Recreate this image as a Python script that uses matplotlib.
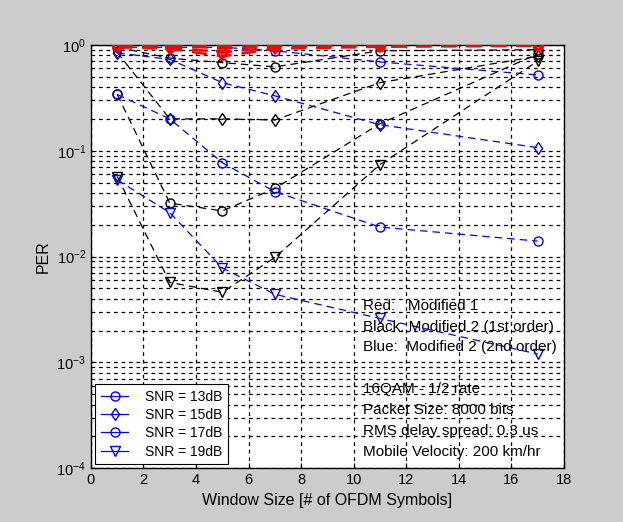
import matplotlib
matplotlib.use("Agg")
import matplotlib.pyplot as plt
from matplotlib.lines import Line2D
from matplotlib.ticker import LogLocator, NullFormatter

plt.rcParams['font.family'] = ['Liberation Sans', 'DejaVu Sans']
plt.rcParams['mathtext.fontset'] = 'custom'
plt.rcParams['mathtext.rm'] = 'Liberation Sans'

# window sizes (# of OFDM symbols)
window = [1, 3, 5, 7, 11, 17]

# Red: Modified 1
red_13 = [1.0, 1.0, 0.98, 1.0, 1.0, 1.0]
red_15 = [0.99, 0.98, 0.93, 0.98, 0.99, 1.0]
red_17 = [0.97, 0.95, 0.85, 0.95, 0.98, 0.99]
red_19 = [0.95, 0.92, 0.78, 0.92, 0.96, 0.98]

# Black: Modified 2 (1st order)
blk_13 = [0.95, 0.75, 0.68, 0.62, 0.88, 0.9]
blk_15 = [0.85, 0.2, 0.2, 0.195, 0.44, 0.78]
blk_17 = [0.34, 0.032, 0.027, 0.044, 0.18, 0.82]
blk_19 = [0.057, 0.0057, 0.0046, 0.0098, 0.074, 0.7]

# Blue: Modified 2 (2nd order)
blu_13 = [0.95, 0.95, 0.95, 0.88, 0.69, 0.52]
blu_15 = [0.84, 0.73, 0.44, 0.33, 0.176, 0.107]
blu_17 = [0.34, 0.2, 0.077, 0.041, 0.019, 0.014]
blu_19 = [0.053, 0.026, 0.0078, 0.0044, 0.0026, 0.0012]

snr_labels = ['SNR = 13dB', 'SNR = 15dB', 'SNR = 17dB', 'SNR = 19dB']
markers = ['o', 'd', 'o', 'v']

fig = plt.figure(figsize=(6.23, 5.22), dpi=100, facecolor='#cccccc')
ax = fig.add_axes([0.146, 0.103, 0.759, 0.811])

dash = (6, 4)
groups = [
    ([blk_13, blk_15, blk_17, blk_19], 'black', 0.9, 2),
    ([blu_13, blu_15, blu_17, blu_19], '#0000ff', 0.9, 3),
    ([red_13, red_15, red_17, red_19], 'red', 1.8, 4),
]
for series, col, lw, z in groups:
    for vals, m in zip(series, markers):
        ax.semilogy(window, vals, color=col, linestyle='--', dashes=dash,
                    linewidth=lw, marker=m, markersize=6.5,
                    markerfacecolor='none', markeredgecolor=col,
                    markeredgewidth=1.0 if col != 'red' else 1.6, zorder=z)

ax.set_xlim(0, 18)
ax.set_ylim(1e-4, 1)
ax.set_xticks(range(0, 19, 2))
ax.yaxis.set_major_locator(LogLocator(base=10, numticks=10))
ax.yaxis.set_minor_locator(LogLocator(base=10, subs=range(2, 10), numticks=10))
ax.yaxis.set_minor_formatter(NullFormatter())
ax.grid(True, which='major', color='black', linestyle=(0, (3, 3)), linewidth=0.9)
ax.grid(True, which='minor', axis='y', color='black', linestyle=(0, (3, 3)), linewidth=0.9)
ax.tick_params(which='both', direction='in', labelsize=10.5, color='black')
ax.tick_params(which='minor', length=2)
for s in ax.spines.values():
    s.set_linewidth(1.0)

ax.set_xlabel('Window Size [# of OFDM Symbols]', fontsize=11.5)
ax.set_ylabel('PER', fontsize=11.5)

# legend shows solid blue handles like the original
handles = [Line2D([], [], color='#0000ff', linewidth=0.9, marker=m, markersize=6.5,
                  markerfacecolor='none', markeredgecolor='#0000ff')
           for m in markers]
leg = ax.legend(handles, snr_labels, loc='lower left', fontsize=10, fancybox=False,
                edgecolor='black', framealpha=1, borderaxespad=0.3,
                handlelength=2.0, labelspacing=0.3, handletextpad=1.2)
leg.get_frame().set_linewidth(0.8)
leg.set_zorder(10)

notes1 = ['Red:   Modified 1', 'Black: Modified 2 (1st order)', 'Blue:  Modified 2 (2nd order)']
notes2 = ['16QAM - 1/2 rate', 'Packet Size: 8000 bits', 'RMS delay spread: 0.3 us',
          'Mobile Velocity: 200 km/hr']
for i, t in enumerate(notes1):
    ax.text(10.35, 10 ** (-(307 - 45 + i * 20.5) / 106), t, fontsize=11, va='center', zorder=6)
for i, t in enumerate(notes2):
    ax.text(10.35, 10 ** (-(390 - 45 + i * 21) / 106), t, fontsize=11, va='center', zorder=6)

fig.savefig('out.png', dpi=100, facecolor=fig.get_facecolor())
